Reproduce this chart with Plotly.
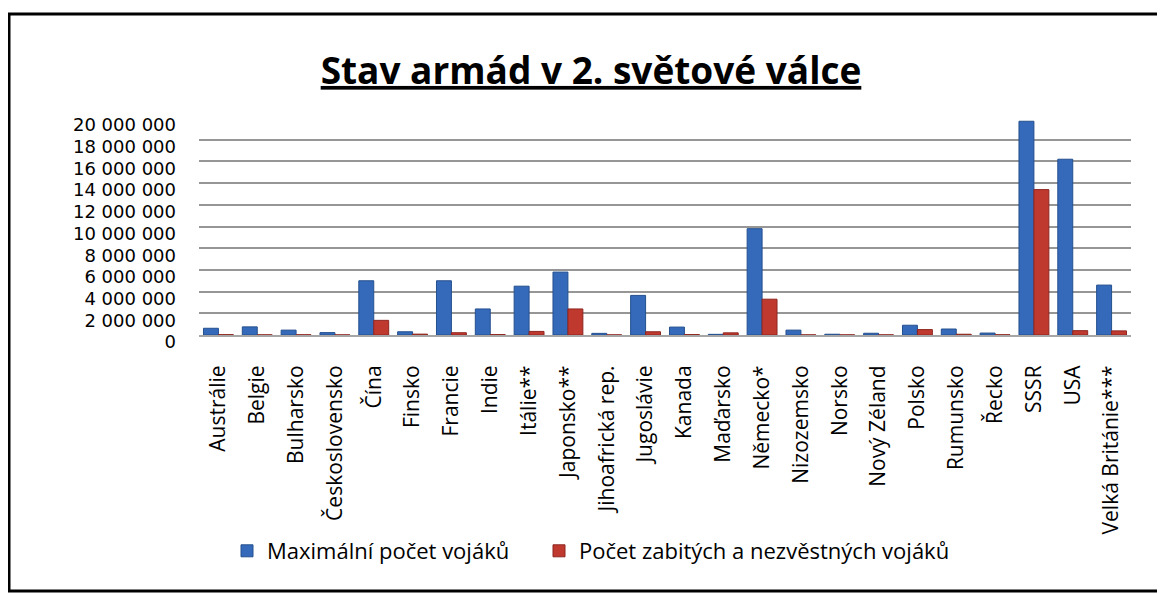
import plotly.graph_objects as go

countries = ["Austrálie", "Belgie", "Bulharsko", "Československo", "Čína", "Finsko",
             "Francie", "Indie", "Itálie**", "Japonsko**", "Jihoafrická rep.", "Jugoslávie",
             "Kanada", "Maďarsko", "Německo*", "Nizozemsko", "Norsko", "Nový Zéland",
             "Polsko", "Rumunsko", "Řecko", "SSSR", "USA", "Velká Británie***"]

max_soldiers = [620000, 750000, 450000, 220000, 5000000, 300000,
                5000000, 2400000, 4500000, 5800000, 150000, 3650000,
                730000, 60000, 9800000, 450000, 70000, 160000,
                900000, 550000, 180000, 19700000, 16200000, 4600000]

killed_missing = [30000, 12000, 20000, 10000, 1350000, 80000,
                  210000, 40000, 330000, 2400000, 10000, 300000,
                  40000, 200000, 3300000, 10000, 10000, 12000,
                  500000, 70000, 20000, 13400000, 400000, 380000]

y_ticks = [0, 2000000, 4000000, 6000000, 8000000, 10000000,
           12000000, 14000000, 16000000, 18000000, 20000000]

series_names = ["Maximální počet vojáků", "Počet zabitých a nezvěstných vojáků"]

FONT = "Open Sans, DejaVu Sans, sans-serif"

fig = go.Figure()
fig.add_trace(go.Bar(x=countries, y=max_soldiers, name=series_names[0], legend="legend",
                     marker=dict(color="#3569B9", line=dict(color="#24508F", width=1))))
fig.add_trace(go.Bar(x=countries, y=killed_missing, name=series_names[1], legend="legend2",
                     marker=dict(color="#C0392F", line=dict(color="#8E2620", width=1))))

# the page body has an 8px margin, so figure coordinates = page coordinates - 8
OFF = 8
W, H = 1165 - OFF, 594 - OFF
L, T = 199 - OFF, 118 - OFF
R = W - (1131 - OFF)
B = H - (335 - OFF)
pw, ph = W - L - R, H - T - B

def px_x(page_x):
    return (page_x - OFF - L) / pw

def px_y(page_y):
    return (H - B - (page_y - OFF)) / ph

legend_common = dict(orientation="h", xanchor="left", yanchor="middle",
                     font=dict(size=22, family=FONT), bgcolor="rgba(0,0,0,0)")

fig.update_layout(
    width=W, height=H,
    margin=dict(l=L, r=R, t=T, b=B, autoexpand=False),
    paper_bgcolor="white", plot_bgcolor="white",
    separators=", ",
    barmode="group", bargap=0.23, bargroupgap=0.0,
    font=dict(family=FONT, color="black"),
    title=dict(text="<b><u>Stav armád v 2. světové válce</u></b>",
               x=(591 - OFF) / W, xref="container", xanchor="center",
               y=1 - (71 - OFF) / H, yref="container", yanchor="middle",
               font=dict(family=FONT, size=37, color="black")),
    xaxis=dict(tickangle=-90, tickfont=dict(size=21, family=FONT), automargin=False,
               showgrid=False, showline=True, linecolor="#A6A6A6", linewidth=2,
               ticks="", ticklabelstandoff=20, range=[-0.5, len(countries) - 0.5]),
    yaxis=dict(range=[0, 20000000], tickvals=y_ticks, tickformat=",d", automargin=False,
               tickfont=dict(size=18, family="DejaVu Sans, sans-serif"), showgrid=True,
               gridcolor="#969696", gridwidth=2, zeroline=False,
               ticks="", ticklabelshift=7, ticklabelstandoff=22, showline=False),
    legend=dict(x=px_x(227), y=px_y(551), **legend_common),
    legend2=dict(x=px_x(539), y=px_y(551), **legend_common),
    showlegend=True,
    shapes=[dict(type="rect", xref="paper", yref="paper",
                 x0=px_x(9), x1=px_x(1190), y0=px_y(14), y1=px_y(591),
                 line=dict(color="black", width=3), fillcolor="rgba(0,0,0,0)", layer="below")],
)

fig.write_html("out.html")
